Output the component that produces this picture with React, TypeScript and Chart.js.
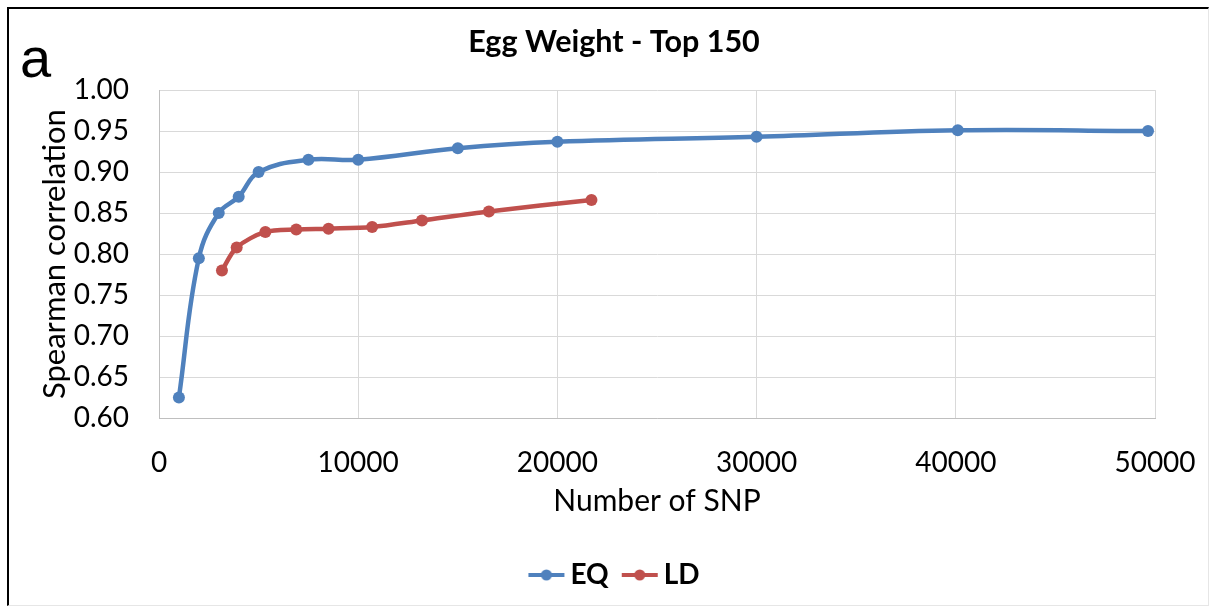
import React, { useEffect, useRef } from "react";
import { Chart, registerables } from "chart.js";

Chart.register(...registerables);

const TITLE = "Egg Weight - Top 150";
const PANEL_LETTER = "a";
const X_TITLE = "Number of SNP";
const Y_TITLE = "Spearman correlation";

const EQ_LABEL = "EQ";
const EQ_X = [1000, 2000, 3000, 4000, 5000, 7500, 10000, 15000, 20000, 30000, 40100, 49650];
const EQ_Y = [0.625, 0.795, 0.85, 0.87, 0.9, 0.915, 0.915, 0.929, 0.937, 0.943, 0.951, 0.95];

const LD_LABEL = "LD";
const LD_X = [3160, 3900, 5340, 6890, 8510, 10700, 13200, 16560, 21710];
const LD_Y = [0.78, 0.808, 0.827, 0.83, 0.831, 0.833, 0.841, 0.852, 0.866];

const X_MIN = 0;
const X_MAX = 50000;
const X_STEP = 10000;
const Y_MIN = 0.6;
const Y_MAX = 1.0;
const Y_STEP = 0.05;

const BLUE = "#4F81BD";
const RED = "#C0504D";
const FONT = "Lato";

function legendMarker(color: string): HTMLCanvasElement {
  const c = document.createElement("canvas");
  c.width = 56;
  c.height = 16;
  const ctx = c.getContext("2d")!;
  ctx.strokeStyle = color;
  ctx.lineWidth = 4;
  ctx.beginPath();
  ctx.moveTo(14, 8);
  ctx.lineTo(50, 8);
  ctx.stroke();
  ctx.fillStyle = color;
  ctx.beginPath();
  ctx.arc(32, 8, 5.5, 0, Math.PI * 2);
  ctx.fill();
  return c;
}

const letterPlugin = {
  id: "panelLetter",
  afterDraw(chart: any) {
    const ctx = chart.ctx;
    ctx.save();
    ctx.font = '56px "Liberation Sans"';
    ctx.fillStyle = "#000";
    ctx.textBaseline = "alphabetic";
    ctx.textAlign = "left";
    ctx.fillText(PANEL_LETTER, 20, 77);
    ctx.restore();
  },
};

export default function App() {
  const ref = useRef<HTMLCanvasElement | null>(null);

  useEffect(() => {
    if (!ref.current) return;
    const markers = [legendMarker(BLUE), legendMarker(RED)];
    const chart = new Chart(ref.current, {
      type: "line",
      data: {
        datasets: [
          {
            label: EQ_LABEL,
            data: EQ_X.map((x, i) => ({ x, y: EQ_Y[i] })),
            borderColor: BLUE,
            backgroundColor: BLUE,
            borderWidth: 4.5,
            pointRadius: 6,
            pointBorderWidth: 0,
            tension: 0.4,
          },
          {
            label: LD_LABEL,
            data: LD_X.map((x, i) => ({ x, y: LD_Y[i] })),
            borderColor: RED,
            backgroundColor: RED,
            borderWidth: 4.5,
            pointRadius: 6,
            pointBorderWidth: 0,
            tension: 0.3,
          },
        ],
      },
      options: {
        responsive: false,
        animation: false,
        layout: { padding: { top: 12, left: 12, right: -2, bottom: 11 } },
        plugins: {
          tooltip: { enabled: false },
          title: {
            display: true,
            text: TITLE,
            color: "#000",
            font: { family: FONT, size: 30.5, weight: "bold" },
            padding: { top: 12, bottom: 29.5 },
          },
          legend: {
            position: "bottom",
            labels: {
              usePointStyle: true,
              pointStyleWidth: 28,
              padding: 13,
              color: "#000",
              font: { family: FONT, size: 28, weight: "bold" },
              generateLabels: (ch: any) =>
                ch.data.datasets.map((ds: any, i: number) => ({
                  text: ds.label,
                  pointStyle: markers[i],
                  fillStyle: ds.borderColor,
                  strokeStyle: ds.borderColor,
                  lineWidth: 0,
                  fontColor: "#000",
                  datasetIndex: i,
                  hidden: false,
                })),
            },
          },
        },
        scales: {
          x: {
            type: "linear",
            min: X_MIN,
            max: X_MAX,
            afterFit: (scale: any) => {
              scale.height = 130;
              scale.paddingRight = 59;
            },
            ticks: {
              stepSize: X_STEP,
              padding: 28,
              color: "#000",
              font: { family: FONT, size: 28 },
              callback: (v: any) => String(v),
            },
            grid: { color: "#d9d9d9", drawTicks: false, lineWidth: 1 },
            border: { color: "#bfbfbf" },
            title: {
              display: true,
              text: X_TITLE,
              color: "#000",
              font: { family: FONT, size: 30 },
              padding: { top: 4, bottom: 29 },
            },
          },
          y: {
            type: "linear",
            min: Y_MIN,
            max: Y_MAX,
            afterFit: (scale: any) => {
              scale.width = 147;
            },
            ticks: {
              stepSize: Y_STEP,
              padding: 30,
              color: "#000",
              font: { family: FONT, size: 28 },
              callback: (v: any) => Number(v).toFixed(2),
            },
            grid: { color: "#d9d9d9", drawTicks: false, lineWidth: 1 },
            border: { color: "#bfbfbf" },
            title: {
              display: true,
              text: Y_TITLE,
              color: "#000",
              font: { family: FONT, size: 31 },
              padding: { top: 24, bottom: 1 },
            },
          },
        },
      },
      plugins: [letterPlugin],
    });
    return () => chart.destroy();
  }, []);

  return (
    <div style={{ position: "fixed", left: 0, top: 0, width: 1214, height: 610, background: "#fff" }}>
      <canvas ref={ref} width={1214} height={610} style={{ position: "absolute", left: 0, top: 0 }} />
      <div
        style={{
          position: "absolute",
          left: 7,
          top: 7,
          right: 5,
          bottom: 4,
          borderTop: "2px solid #000",
          borderLeft: "2px solid #000",
          borderRight: "1px solid #e6e6e6",
          borderBottom: "1px solid #e6e6e6",
          pointerEvents: "none",
        }}
      />
    </div>
  );
}
